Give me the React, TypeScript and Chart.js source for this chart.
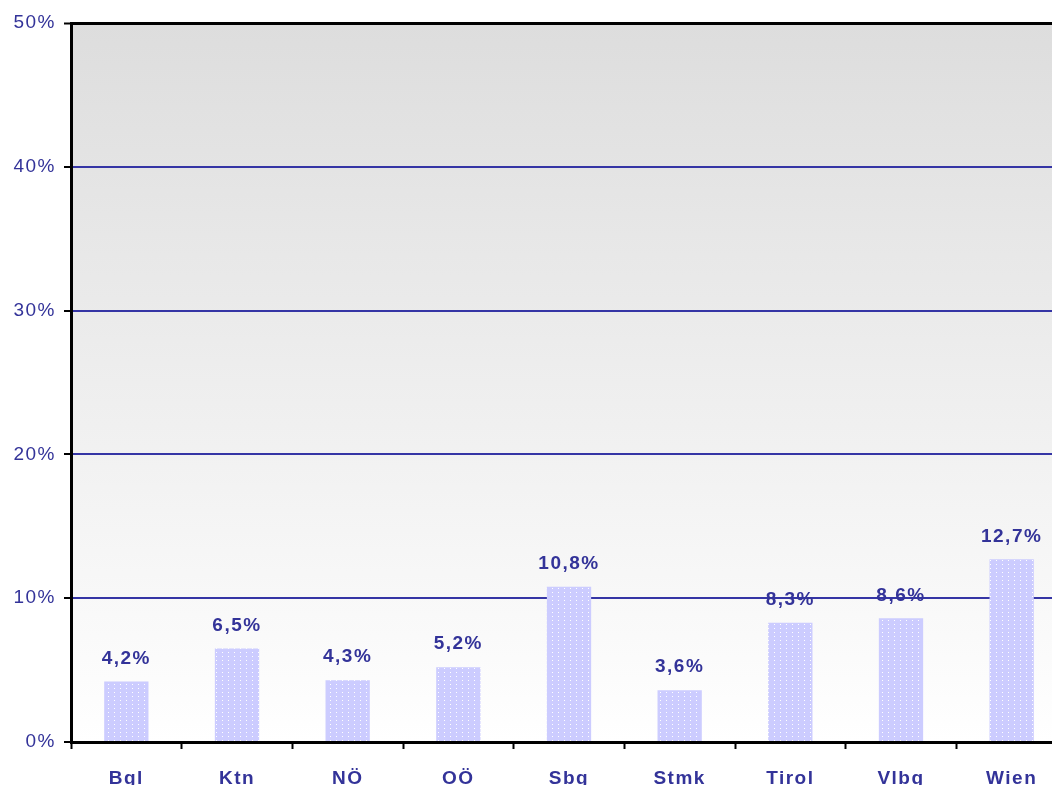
import React, { useEffect, useRef } from "react";
import { Chart, registerables } from "chart.js";

Chart.register(...registerables);

const categories = ["Bgl", "Ktn", "NÖ", "OÖ", "Sbg", "Stmk", "Tirol", "Vlbg", "Wien"];
const values = [4.2, 6.5, 4.3, 5.2, 10.8, 3.6, 8.3, 8.6, 12.7];
const valueLabels = ["4,2%", "6,5%", "4,3%", "5,2%", "10,8%", "3,6%", "8,3%", "8,6%", "12,7%"];
const yTicks = [0, 10, 20, 30, 40, 50];

const BLUE = "#333399";
const GRID = "#3535A5";
const FONT = "'Liberation Sans', Arial, sans-serif";
const SPACING = "1.5px";

function makePattern(ctx: CanvasRenderingContext2D) {
  const c = document.createElement("canvas");
  c.width = 6;
  c.height = 4;
  const p = c.getContext("2d")!;
  p.fillStyle = "#CCCCFF";
  p.fillRect(0, 0, 6, 4);
  p.fillStyle = "#FFFFFF";
  p.fillRect(0, 0, 1, 1);
  return ctx.createPattern(c, "repeat")!;
}

const spacingPlugin = {
  id: "spacing",
  beforeLayout(chart: any) {
    (chart.ctx as any).letterSpacing = SPACING;
  },
  beforeDraw(chart: any) {
    (chart.ctx as any).letterSpacing = SPACING;
  },
};

const bgPlugin = {
  id: "bgGradient",
  beforeDraw(chart: any) {
    const { ctx, chartArea } = chart;
    const g = ctx.createLinearGradient(0, chartArea.top, 0, chartArea.bottom);
    g.addColorStop(0, "#DDDDDD");
    g.addColorStop(1, "#FFFFFF");
    ctx.save();
    ctx.fillStyle = g;
    ctx.fillRect(chartArea.left, chartArea.top, chartArea.right - chartArea.left, chartArea.bottom - chartArea.top);
    ctx.restore();
  },
};

const labelPlugin = {
  id: "valueLabels",
  afterDatasetsDraw(chart: any) {
    const { ctx } = chart;
    const meta = chart.getDatasetMeta(0);
    ctx.save();
    ctx.font = `bold 19px ${FONT}`;
    ctx.fillStyle = BLUE;
    ctx.textAlign = "center";
    ctx.textBaseline = "middle";
    meta.data.forEach((bar: any, i: number) => {
      ctx.fillText(valueLabels[i], bar.x, bar.y - 23);
    });
    ctx.restore();
  },
};

export default function App() {
  const ref = useRef<HTMLCanvasElement>(null);
  useEffect(() => {
    const canvas = ref.current!;
    const ctx = canvas.getContext("2d")!;
    const chart = new Chart(canvas, {
      type: "bar",
      data: {
        labels: categories,
        datasets: [
          {
            data: values,
            backgroundColor: makePattern(ctx),
            borderWidth: 0,
            barPercentage: 0.4,
            categoryPercentage: 1,
          },
        ],
      },
      options: {
        responsive: false,
        animation: false,
        devicePixelRatio: 1,
        layout: { padding: { top: 23, left: 0, right: 0, bottom: 0 } },
        plugins: {
          legend: { display: false },
          tooltip: { enabled: false },
          title: { display: false },
        },
        scales: {
          x: {
            grid: {
              offset: true,
              drawOnChartArea: false,
              drawTicks: true,
              tickLength: 7,
              tickColor: "#000",
              tickWidth: 2,
            },
            border: { color: "#000", width: 3 },
            ticks: {
              color: BLUE,
              font: { family: FONT, size: 19, weight: "bold" },
              padding: 18,
            },
            afterFit(scale: any) {
              scale.height = 43;
            },
          },
          y: {
            min: 0,
            max: 50,
            afterBuildTicks(scale: any) {
              scale.ticks = yTicks.map((v) => ({ value: v }));
            },
            grid: {
              color: (c: any) => (c.tick && c.tick.value === 50 ? "#000" : c.tick && c.tick.value === 0 ? "rgba(0,0,0,0)" : GRID),
              lineWidth: (c: any) => (c.tick && c.tick.value === 50 ? 3 : 2),
              tickColor: "#000",
              tickLength: 7,
              tickWidth: 2,
            },
            border: { color: "#000", width: 3 },
            ticks: {
              color: BLUE,
              font: { family: FONT, size: 19 },
              padding: 8,
              callback: (v: any) => `${v}%`,
            },
            afterFit(scale: any) {
              scale.width = 71;
            },
          },
        },
      },
      plugins: [spacingPlugin, bgPlugin, labelPlugin],
    });
    return () => chart.destroy();
  }, []);
  return (
    <div style={{ position: "fixed", left: 0, top: 0, width: 1052, height: 785, overflow: "hidden", background: "#fff" }}>
      <canvas ref={ref} width={1067} height={785} style={{ display: "block", width: 1067, height: 785 }} />
    </div>
  );
}
